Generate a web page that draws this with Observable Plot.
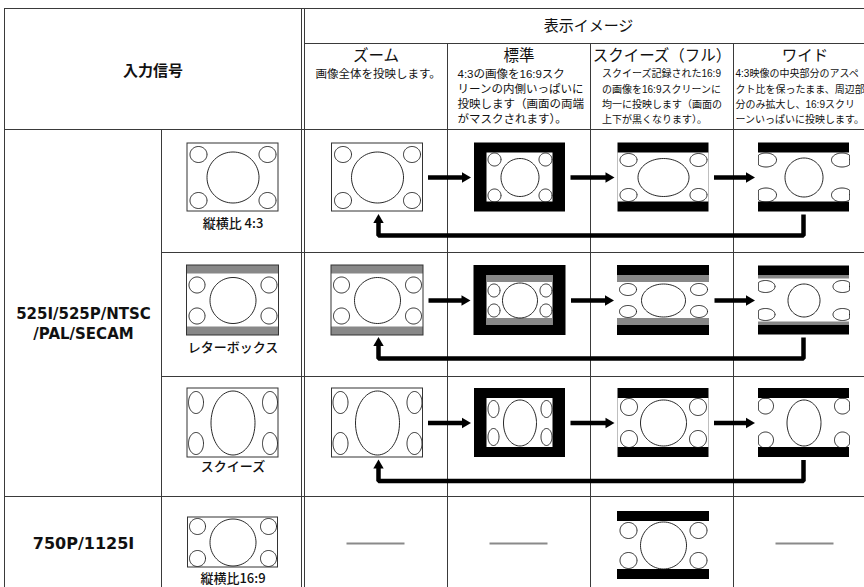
<!DOCTYPE html>
<html>
<head>
<meta charset="utf-8">
<script src="https://cdn.jsdelivr.net/npm/d3@7"></script>
<script src="https://cdn.jsdelivr.net/npm/@observablehq/plot@0.6"></script>
<style>
  html, body { margin: 0; padding: 0; background: #fff; }
  #chart svg { display: block; }
</style>
</head>
<body>
<div id="chart"></div>
<script>
// ---------------- DATA ----------------
const headerInput = "入力信号";
const headerDisplay = "表示イメージ";
const modes = ["ズーム", "標準", "スクイーズ（フル）", "ワイド"];
const modeDescriptions = [
  ["画像全体を投映します。"],
  ["4:3の画像を16:9スク", "リーンの内側いっぱいに", "投映します（画面の両端", "がマスクされます）。"],
  ["スクイーズ記録された16:9", "の画像を16:9スクリーンに", "均一に投映します（画面の", "上下が黒くなります）。"],
  ["4:3映像の中央部分のアスペ", "クト比を保ったまま、周辺部", "分のみ拡大し、16:9スクリ", "ーンいっぱいに投映します。"]
];
const signalGroups = ["525I/525P/NTSC\n/PAL/SECAM", "750P/1125I"];
const signalGroupRows = [[0, 1, 2], [3]];
const formats = ["縦横比 4:3", "レターボックス", "スクイーズ", "縦横比16:9"];
// which display modes are available for each input format (1 = picture, 0 = "—")
const supported = [
  [1, 1, 1, 1],
  [1, 1, 1, 1],
  [1, 1, 1, 1],
  [0, 0, 1, 0]
];
// rows that show the mode cycle (zoom -> standard -> squeeze(full) -> wide -> back to zoom)
const cycleRows = [0, 1, 2];

// ---------------- LAYOUT (geometry / style only) ----------------
const W = 864, H = 587;
const L = {
  left: 4, top: 8, right: 876,
  xSignal: 161, xDouble: [301, 304],
  modeEdges: [304, 447, 590, 733, 876],
  yTitle: 43, yHead: 129,
  rowEdges: [129, 252, 376, 496, 600],
  picX: [232.5, 377, 519.5, 663, 803.5],
  picY: [177, 300, 422.5, 542],
  picY16x9Display: 545,
  labelY: [223, 347, 466, 578],
  descX: [315, 457, 601.5, 735],
  descSize: [11.5, 11.5, 10, 10],
  descY: [73.5, 89, 104, 119]
};
// picture looks: W,H outer; fl/ft black frame; g gray bar; c centre ellipse radii; k corner radii; ki corner inset
const look43  = {W: 91, H: 68, fl: 0, ft: 0, g: 0, c: [26, 25.5], k: [8.5, 8], ki: [11, 11], border: true};
const lookLB  = {W: 92, H: 70, fl: 0, ft: 0, g: 8.5, c: [23, 23], k: [8, 8], ki: [10, 11], border: true};
const lookSQ  = {W: 91, H: 69, fl: 0, ft: 0, g: 0, c: [22, 32], k: [7.5, 11], ki: [8.5, 14], border: true};
const look169 = {W: 90, H: 50, fl: 0, ft: 0, g: 0, c: [23, 23.5], k: [8, 8], ki: [9.5, 9], border: true};
const looks = [
  // input, zoom, standard, squeeze(full), wide
  [look43, look43,
   {W: 91, H: 69, fl: 12.5, ft: 10, g: 0, c: [19, 19], k: [6.5, 6.5], ki: [7.5, 6.5]},
   {W: 91, H: 69, fl: 0, ft: 10, g: 0, c: [25.5, 19], k: [8.5, 6.5], ki: [10.5, 7]},
   {W: 91, H: 69, fl: 0, ft: 10, g: 0, c: [19, 19.5], k: [10.5, 7], ki: [7.5, 7]}],
  [lookLB, lookLB,
   {W: 92, H: 70, fl: 13, ft: 10, g: 7, c: [17.5, 17.5], k: [6, 6.5], ki: [7, 8]},
   {W: 92, H: 70, fl: 0, ft: 10, g: 7, c: [22, 16.5], k: [8.5, 6], ki: [10.5, 7]},
   {W: 91, H: 69, fl: 0, ft: 10, g: 3, c: [16, 16.5], k: [9.5, 6], ki: [7, 7.5]}],
  [lookSQ, lookSQ,
   {W: 91, H: 69, fl: 12.5, ft: 10, g: 0, c: [16.5, 23], k: [5.5, 8.5], ki: [6.5, 10.5]},
   {W: 91, H: 69, fl: 0, ft: 10, g: 0, c: [23, 23], k: [8.5, 8.5], ki: [11, 8.5]},
   {W: 91, H: 69, fl: 0, ft: 10, g: 0, c: [17, 23], k: [8, 8], ki: [7, 7.5]}],
  [look169, null, null,
   {W: 92, H: 68, fl: 0, ft: 10, g: 0, c: [23, 23.5], k: [8.5, 8], ki: [11, 9]},
   null]
];

// ---------------- BUILD MARK DATA ----------------
const rects = [], ells = [], borders = [], shafts = [], heads = [], dashes = [];
const clamp = (v, a, b) => Math.max(a, Math.min(b, v));
function addPicture(cx, cy, s, id) {
  const x1 = cx - s.W / 2, x2 = cx + s.W / 2, y1 = cy - s.H / 2, y2 = cy + s.H / 2;
  const framed = s.fl > 0 || s.ft > 0;
  rects.push({x1, x2, y1, y2, fill: framed ? "#000" : "#fff"});
  const ix1 = x1 + s.fl, ix2 = x2 - s.fl, iy1 = y1 + s.ft, iy2 = y2 - s.ft;
  if (framed) rects.push({x1: ix1, x2: ix2, y1: iy1, y2: iy2, fill: "#fff"});
  if (s.g > 0) {
    rects.push({x1: ix1, x2: ix2, y1: iy1, y2: iy1 + s.g, fill: "#888"});
    rects.push({x1: ix1, x2: ix2, y1: iy2 - s.g, y2: iy2, fill: "#888"});
  }
  const cy1 = iy1 + s.g, cy2 = iy2 - s.g;
  const mx = (ix1 + ix2) / 2, my = (cy1 + cy2) / 2;
  const list = [
    [mx, my, s.c[0], s.c[1]],
    [ix1 + s.ki[0], cy1 + s.ki[1], s.k[0], s.k[1]],
    [ix2 - s.ki[0], cy1 + s.ki[1], s.k[0], s.k[1]],
    [ix1 + s.ki[0], cy2 - s.ki[1], s.k[0], s.k[1]],
    [ix2 - s.ki[0], cy2 - s.ki[1], s.k[0], s.k[1]]
  ];
  list.forEach(([ex, ey, rx, ry], j) => {
    const n = 72;
    for (let t = 0; t < n; t++) {
      const a = 2 * Math.PI * t / n;
      ells.push({id: id + "-" + j,
        x: clamp(ex + rx * Math.cos(a), ix1, ix2),
        y: clamp(ey + ry * Math.sin(a), cy1, cy2)});
    }
  });
  if (s.border) borders.push({x1, x2, y1, y2});
}

formats.forEach((f, r) => {
  addPicture(L.picX[0], L.picY[r], looks[r][0], `in${r}`);
  modes.forEach((m, c) => {
    const colCenter = (L.modeEdges[c] + L.modeEdges[c + 1]) / 2;
    if (supported[r][c]) {
      const cy = r === 3 ? L.picY16x9Display : L.picY[r];
      addPicture(L.picX[c + 1], cy, looks[r][c + 1], `p${r}-${c}`);
    } else {
      dashes.push({x1: colCenter - 29, x2: colCenter + 29, y: L.picY[r] + 1});
    }
  });
});

// arrows
const headR = 3.86; // d3 triangle: tip lies 2*0.7776*r from its centre
const tipOff = 2 * 0.7776 * headR;
cycleRows.forEach(r => {
  const cy = L.picY[r];
  for (let c = 1; c <= 3; c++) {
    const a = L.picX[c] + looks[r][c].W / 2 + 5;
    const tip = L.picX[c + 1] - looks[r][c + 1].W / 2 - 3.5;
    shafts.push({id: `f${r}${c}`, x: a, y: cy});
    shafts.push({id: `f${r}${c}`, x: tip - 7, y: cy});
    heads.push({x: tip - tipOff, y: cy, rot: 90});
  }
  const bottom = cy + looks[r][4].H / 2;
  const xw = L.picX[4] - 0.5, xz = L.picX[1] + 1;
  const yb = bottom + 23.5;
  const tipY = bottom + 2;
  [[xw, bottom + 2.5], [xw, yb], [xz, yb], [xz, tipY + 7]].forEach(([x, y]) =>
    shafts.push({id: `b${r}`, x, y}));
  heads.push({x: xz, y: tipY + tipOff, rot: 0});
});

// grid rules
const vRules = [
  {x: L.left, y1: L.top, y2: H},
  {x: L.xSignal, y1: L.yHead, y2: H},
  {x: L.xDouble[0], y1: L.top, y2: H},
  {x: L.xDouble[1], y1: L.top, y2: H},
  ...L.modeEdges.slice(1, 4).map(x => ({x, y1: L.yTitle, y2: H}))
];
const hRules = [
  {y: L.top, x1: L.left, x2: L.right},
  {y: L.yTitle, x1: L.xDouble[1], x2: L.right},
  {y: L.yHead, x1: L.left, x2: L.right},
  {y: L.rowEdges[1], x1: L.xSignal, x2: L.right},
  {y: L.rowEdges[2], x1: L.xSignal, x2: L.right},
  {y: L.rowEdges[3], x1: L.left, x2: L.right}
];

// texts
const headTexts = [
  {x: (L.left + L.xDouble[0]) / 2, y: 71, text: headerInput},
  {x: (L.xDouble[1] + L.right) / 2 - 2, y: 26, text: headerDisplay}
];
const modeTitles = modes.map((m, c) => ({x: (L.modeEdges[c] + L.modeEdges[c + 1]) / 2, y: 55.5, text: m}));
const descTexts = modeDescriptions.flatMap((lines, c) =>
  lines.map((t, i) => ({x: L.descX[c], y: L.descY[i], text: t, size: L.descSize[c]})));
const formatLabels = formats.map((f, r) => ({x: L.picX[0], y: L.labelY[r], text: f}));
const signalLabels = signalGroups.map((s, g) => {
  const rows = signalGroupRows[g];
  const y1 = L.rowEdges[rows[0]], y2 = L.rowEdges[rows[rows.length - 1] + 1];
  return {x: (L.left + L.xSignal) / 2 + 0.5, y: g === 0 ? (y1 + y2) / 2 + 9.5 : 543, text: s};
});

const jp = "'Liberation Sans', 'Noto Sans CJK JP', sans-serif";
const jpLabel = "'Noto Sans CJK JP', sans-serif";
const lat = "'DejaVu Sans', 'Liberation Sans', sans-serif";

const chart = Plot.plot({
  width: W, height: H,
  margin: 0,
  x: {domain: [0, W], range: [0, W], axis: null},
  y: {domain: [0, H], range: [0, H], axis: null},
  color: {type: "identity"},
  style: {background: "#fff", fontFamily: jp},
  marks: [
    Plot.rect(rects, {x1: "x1", x2: "x2", y1: "y1", y2: "y2", fill: "fill"}),
    Plot.line(ells, {x: "x", y: "y", z: "id", curve: "linear-closed", stroke: "#111", strokeWidth: 0.9}),
    Plot.rect(borders, {x1: "x1", x2: "x2", y1: "y1", y2: "y2", fill: "none", stroke: "#333", strokeWidth: 1}),
    Plot.ruleX(vRules, {x: "x", y1: "y1", y2: "y2", stroke: "#3a3a3a", strokeWidth: 1}),
    Plot.ruleY(hRules, {y: "y", x1: "x1", x2: "x2", stroke: "#3a3a3a", strokeWidth: 1}),
    Plot.ruleY(dashes, {y: "y", x1: "x1", x2: "x2", stroke: "#8a8a8a", strokeWidth: 2}),
    Plot.line(shafts, {x: "x", y: "y", z: "id", stroke: "#000", strokeWidth: 4.5, strokeLinejoin: "miter", strokeLinecap: "butt"}),
    Plot.dot(heads, {x: "x", y: "y", rotate: "rot", symbol: "triangle", r: headR, fill: "#000", stroke: "none"}),
    Plot.text(headTexts.slice(0, 1), {x: "x", y: "y", text: "text", fontSize: 15, fontWeight: 700, fontFamily: jp, fill: "#111"}),
    Plot.text(headTexts.slice(1), {x: "x", y: "y", text: "text", fontSize: 15, fontWeight: 400, fontFamily: jp, fill: "#111"}),
    Plot.text(modeTitles, {x: "x", y: "y", text: "text", fontSize: 15.5, fontWeight: 400, fontFamily: jp, fill: "#111"}),
    ...L.descSize.filter((v, i, a) => a.indexOf(v) === i).map(sz =>
      Plot.text(descTexts.filter(d => d.size === sz), {x: "x", y: "y", text: "text", fontSize: sz, fontWeight: 400, fontFamily: jp, textAnchor: "start", fill: "#111"})),
    Plot.text(formatLabels, {x: "x", y: "y", text: "text", fontSize: 13, fontWeight: 500, fontFamily: jpLabel, fill: "#111"}),
    Plot.text(signalLabels.slice(0, 1), {x: "x", y: "y", text: "text", fontSize: 15, fontWeight: 700, lineHeight: 1.33, fontFamily: lat, fill: "#111"}),
    Plot.text(signalLabels.slice(1), {x: "x", y: "y", text: "text", fontSize: 16, fontWeight: 700, fontFamily: lat, fill: "#111"})
  ]
});
document.getElementById("chart").appendChild(chart);
</script>
</body>
</html>
